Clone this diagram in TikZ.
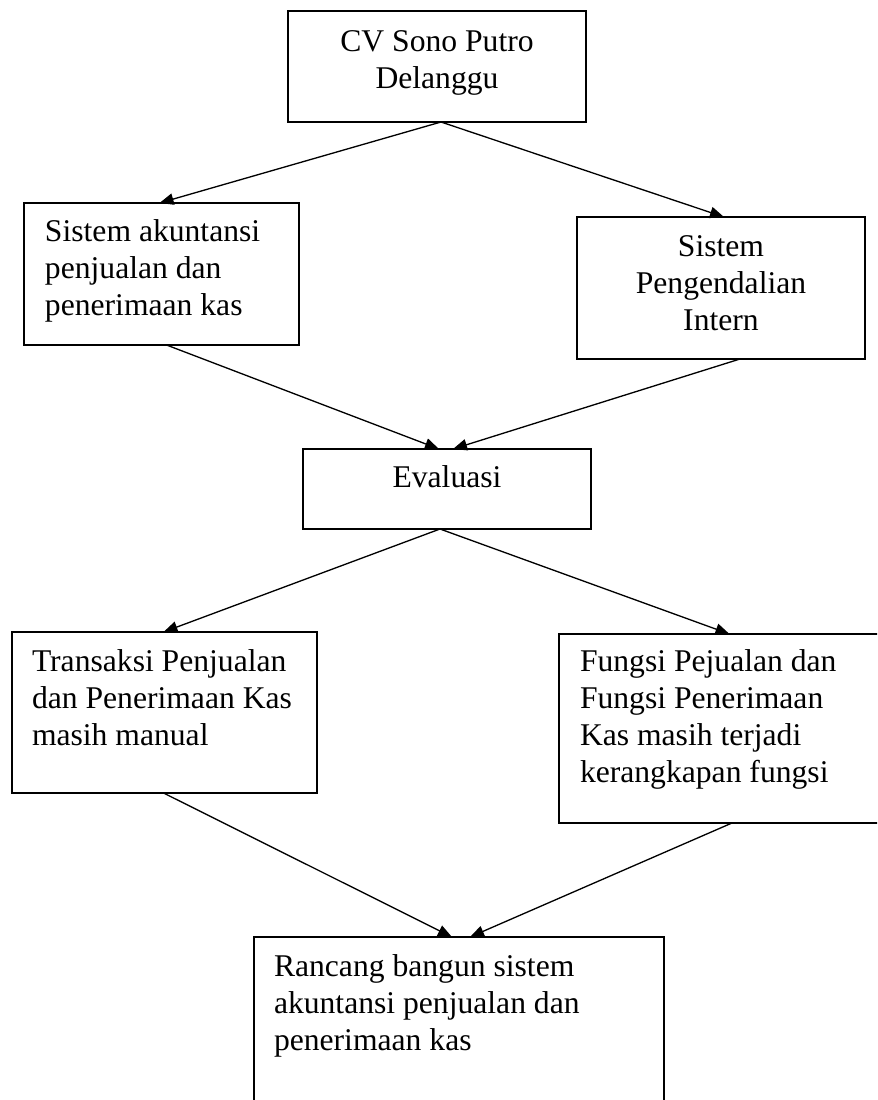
\documentclass[tikz,border=0pt]{standalone}
\usepackage{fontspec}
\setmainfont{Liberation Serif}
\usetikzlibrary{arrows.meta,calc}
\begin{document}
\begin{tikzpicture}[x=0.02cm,y=-0.02cm,
  box/.style={draw=black,line width=0.75pt,inner sep=0pt,outer sep=0pt,fill=none},
  txt/.style={inner sep=0pt,outer sep=0pt,font=\fontsize{18}{21}\selectfont},
  arr/.style={draw=black,line width=0.75pt,-{Triangle[length=8pt,width=6.5pt]}}]
\clip (0,0) rectangle (877,1100);
\fill[white] (0,0) rectangle (877,1100);
% boxes
\node[box,minimum width=5.96cm,minimum height=2.22cm] (top) at (437,66.5) {};
\node[box,minimum width=5.5cm,minimum height=2.84cm] (sak) at (161.5,274) {};
\node[box,minimum width=5.76cm,minimum height=2.84cm] (spi) at (721,288) {};
\node[box,minimum width=5.76cm,minimum height=1.6cm] (eval) at (447,489) {};
\node[box,minimum width=6.1cm,minimum height=3.22cm] (tpk) at (164.5,712.5) {};
\node[box,minimum width=6.82cm,minimum height=3.78cm] (fpj) at (729.5,728.5) {};
\node[box,minimum width=8.2cm,minimum height=3.66cm] (bot) at (459,1028.5) {};
% texts
\node[txt,anchor=north,align=center] (t1) at (437,26) {\strut CV Sono Putro\\Delanggu};
\node[txt,anchor=north west,align=left] (t2) at (45,216) {\strut Sistem akuntansi\\penjualan dan\\penerimaan kas};
\node[txt,anchor=north,align=center] (t3) at (721,231) {\strut Sistem\\Pengendalian\\Intern};
\node[txt,anchor=north,align=center] (t4) at (447,462) {\strut Evaluasi};
\node[txt,anchor=north west,align=left] (t5) at (32,646) {\strut Transaksi Penjualan\\dan Penerimaan Kas\\masih manual};
\node[txt,anchor=north west,align=left] (t6) at (580,646) {\strut Fungsi Pejualan dan\\Fungsi Penerimaan\\Kas masih terjadi\\kerangkapan fungsi};
\node[txt,anchor=north west,align=left] (t7) at (274,951) {\strut Rancang bangun sistem\\akuntansi penjualan dan\\penerimaan kas};
% connectors
\draw[arr] ($(top.south)+(4,0)$) -- ($(sak.north)+(-2,0)$);
\draw[arr] ($(top.south)+(4,0)$) -- ($(spi.north)+(3,0)$);
\draw[arr] ($(sak.south)+(5,0)$) -- ($(eval.north)+(-8,0)$);
\draw[arr] ($(spi.south)+(19,0)$) -- ($(eval.north)+(6,0)$);
\draw[arr] ($(eval.south)+(-7,0)$) -- ($(tpk.north)+(-1,0)$);
\draw[arr] ($(eval.south)+(-7,0)$) -- (fpj.north);
\draw[arr] ($(tpk.south)+(-1,0)$) -- ($(bot.north)+(-7,0)$);
\draw[arr] ($(fpj.south)+(2.5,0)$) -- ($(bot.north)+(11,0)$);
\end{tikzpicture}
\end{document}
